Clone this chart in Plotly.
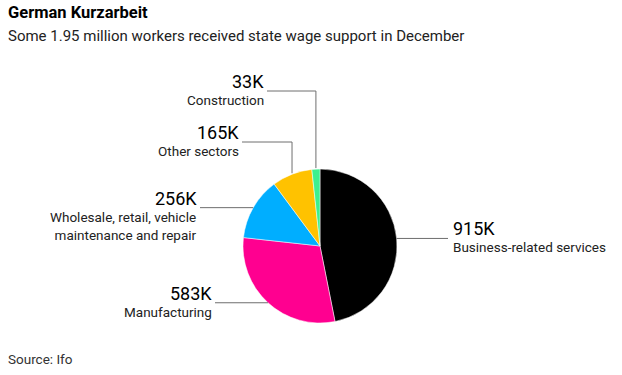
import math
import plotly.graph_objects as go

# ---- data ----
categories = ["Business-related services", "Manufacturing",
              "Wholesale, retail, vehicle<br>maintenance and repair",
              "Other sectors", "Construction"]
values = [915, 583, 256, 165, 33]
value_labels = [f"{v}K" for v in values]
colors = ["#000000", "#FF0090", "#00AEFF", "#FFC200", "#3DF08E"]

# ---- layout constants (pixels) ----
W, H = 622, 375
CX, CY, R = 320, 246, 77
FONT = "Roboto, Arial, sans-serif"

# per-slice label settings: side, elbow y (None = straight horizontal), end x of leader line
label_cfg = [
    ("right", None, 448),
    ("left", None, 215),
    ("left", None, 200),
    ("left", 142, 242),
    ("left", 91, 267),
]


def px(x):
    return x / W


def py(y):
    return 1 - y / H


fig = go.Figure(go.Pie(
    labels=[c.replace("<br>", " ") for c in categories],
    values=values,
    sort=False,
    direction="clockwise",
    rotation=0,
    marker=dict(colors=colors, line=dict(color="white", width=0.5)),
    textinfo="none",
    hoverinfo="label+value",
    showlegend=False,
    domain=dict(x=[px(CX - R), px(CX + R)], y=[py(CY + R), py(CY - R)]),
))

shapes = []
annotations = []
total = sum(values)
cum = 0
for cat, v, vl, (side, elbow, endx) in zip(categories, values, value_labels, label_cfg):
    mid = (cum + v / 2) / total * 2 * math.pi
    cum += v
    ax = CX + R * math.sin(mid)
    ay = CY - R * math.cos(mid)
    line = dict(type="line", xref="paper", yref="paper",
                line=dict(color="#6e6e6e", width=1))
    if elbow is None:
        ly = ay
        shapes.append(dict(line, x0=px(ax), y0=py(ay), x1=px(endx), y1=py(ay)))
    else:
        ly = elbow
        shapes.append(dict(line, x0=px(ax), y0=py(ay - 1), x1=px(ax), y1=py(elbow)))
        shapes.append(dict(line, x0=px(ax), y0=py(elbow), x1=px(endx), y1=py(elbow)))
    if side == "right":
        tx, xa, al = endx + 3, "left", "left"
    else:
        tx, xa, al = endx - 1, "right", "right"
    annotations.append(dict(text=vl, x=px(tx), y=py(ly - 9.5), xref="paper", yref="paper",
                            xanchor=xa, yanchor="middle", showarrow=False, align=al,
                            font=dict(family=FONT, size=18, color="#000000")))
    nlines = cat.count("<br>") + 1
    annotations.append(dict(text=cat, x=px(tx), y=py(ly + 9 + (nlines - 1) * 9),
                            xref="paper", yref="paper",
                            xanchor=xa, yanchor="middle", showarrow=False, align=al,
                            font=dict(family=FONT, size=13.5, color="#222222")))

annotations += [
    dict(text="<b>German Kurzarbeit</b>", x=px(6), y=py(13), xref="paper", yref="paper",
         xanchor="left", yanchor="middle", showarrow=False,
         font=dict(family=FONT, size=16.5, color="#000000")),
    dict(text="Some 1.95 million workers received state wage support in December",
         x=px(6), y=py(36), xref="paper", yref="paper",
         xanchor="left", yanchor="middle", showarrow=False,
         font=dict(family=FONT, size=15, color="#222222")),
    dict(text="Source: Ifo", x=px(6), y=py(359), xref="paper", yref="paper",
         xanchor="left", yanchor="middle", showarrow=False,
         font=dict(family=FONT, size=13.5, color="#333333")),
]

fig.update_layout(
    width=W, height=H,
    margin=dict(l=0, r=0, t=0, b=0),
    paper_bgcolor="white", plot_bgcolor="white",
    shapes=shapes, annotations=annotations,
)

fig.write_html("out.html", config={"displayModeBar": False},
               post_script="document.body.style.margin='0';")
